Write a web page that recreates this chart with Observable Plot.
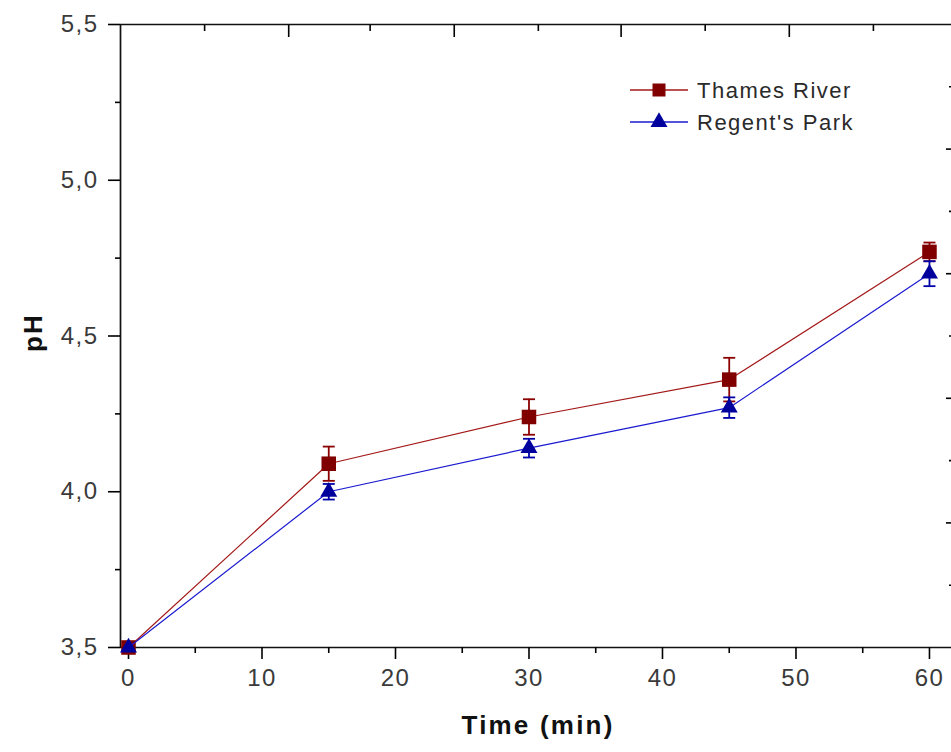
<!DOCTYPE html>
<html>
<head>
<meta charset="utf-8">
<script src="https://cdn.jsdelivr.net/npm/d3@7"></script>
<script src="https://cdn.jsdelivr.net/npm/@observablehq/plot@0.6"></script>
<style>
  html, body { margin: 0; padding: 0; background: #fff; overflow: hidden; }
  #chart { position: relative; width: 951px; height: 752px; }
  #chart svg text { letter-spacing: 1.5px; }
  #chart svg text.axis-title { letter-spacing: 2.2px; }
  #legend { position: absolute; left: 620px; top: 70px; }
  #legend text { letter-spacing: 3px; }
</style>
</head>
<body>
<div id="chart"></div>
<script>
// ---- data ----
const minutes = [0, 15, 30, 45, 60];
const thamesPH = [3.50, 4.09, 4.24, 4.36, 4.77];
const thamesErr = [0, 0.055, 0.057, 0.07, 0.03];
const regentsPH = [3.50, 4.00, 4.14, 4.27, 4.70];
const regentsErr = [0, 0.025, 0.03, 0.033, 0.04];
const seriesNames = ["Thames River", "Regent's Park"];

// ---- axes / ticks ----
const xDomain = [-0.6, 61.65];
const yDomain = [3.5, 5.5];
const xMajorTicks = [0, 10, 20, 30, 40, 50, 60];
const xMinorTicks = [5, 15, 25, 35, 45, 55];
const yMajorTicks = [3.5, 4.0, 4.5, 5.0, 5.5];
const yMinorTicks = [3.75, 4.25, 4.75, 5.25];
const topMajorTicks = [12.0, 24.4, 36.9, 49.5];
const topMinorTicks = [5.7, 18.1, 30.7, 43.2, 55.8];
const rightMajorTicks = [3.9, 4.3, 4.7, 5.1];
const rightMinorTicks = [3.7, 4.1, 4.5, 4.9, 5.3];
const xLabel = "Time (min)";
const yLabel = "pH";

// ---- styles ----
const styles = [
  {line: "#a31818", bar: "#8b0000", fill: "#800000", symbol: "square", r: 8.2, legendSize: 169, legendType: d3.symbolSquare},
  {line: "#1a1ad0", bar: "#0000a8", fill: "#00009c", symbol: "triangle", r: 6.3, legendSize: 125, legendType: d3.symbolTriangle}
];

const series = [
  minutes.map((m, i) => ({x: m, y: thamesPH[i], e: thamesErr[i]})),
  minutes.map((m, i) => ({x: m, y: regentsPH[i], e: regentsErr[i]}))
];

const capSymbol = {
  draw(ctx, size) {
    const w = Math.sqrt(size / Math.PI);
    ctx.moveTo(-w, 0);
    ctx.lineTo(w, 0);
  }
};

const seriesMarks = series.flatMap((data, k) => {
  const s = styles[k];
  const withErr = data.filter(d => d.e > 0);
  return [
    Plot.line(data, {x: "x", y: "y", stroke: s.line, strokeWidth: 1.2}),
    Plot.ruleX(withErr, {x: "x", y1: d => d.y - d.e, y2: d => d.y + d.e, stroke: s.bar, strokeWidth: 1.8}),
    Plot.dot(withErr, {x: "x", y: d => d.y + d.e, symbol: capSymbol, r: 6, stroke: s.bar, strokeWidth: 1.8, fill: "none"}),
    Plot.dot(withErr, {x: "x", y: d => d.y - d.e, symbol: capSymbol, r: 6, stroke: s.bar, strokeWidth: 1.8, fill: "none"}),
    Plot.dot(data, {x: "x", y: "y", symbol: s.symbol, r: s.r, fill: s.fill, stroke: "none"})
  ];
});

const tickFill = "#3a3a3a";

const plot = Plot.plot({
  width: 951,
  height: 752,
  marginTop: 24,
  marginBottom: 105,
  marginLeft: 120,
  marginRight: 0,
  style: {fontFamily: "'Liberation Sans', Arial, sans-serif", background: "white"},
  x: {domain: xDomain},
  y: {domain: yDomain},
  marks: [
    // frame lines (left, top, bottom)
    Plot.ruleX([xDomain[0]], {stroke: "#111", strokeWidth: 1.7}),
    Plot.ruleY([yDomain[0], yDomain[1]], {stroke: "#111", strokeWidth: 1.7}),
    // left axis
    Plot.axisY(yMajorTicks, {anchor: "left", tickSize: 12, tickPadding: 10, strokeWidth: 1.6,
      tickFormat: d => d.toFixed(1).replace(".", ","), fontSize: 24, fill: tickFill, label: null}),
    Plot.axisY(yMinorTicks, {anchor: "left", tickSize: 5, strokeWidth: 1.6, text: null, label: null}),
    // bottom axis
    Plot.axisX(xMajorTicks, {anchor: "bottom", tickSize: 12, tickPadding: 9, strokeWidth: 1.6,
      tickFormat: d => String(d), fontSize: 24, fill: tickFill, label: null}),
    Plot.axisX(xMinorTicks, {anchor: "bottom", tickSize: 6, strokeWidth: 1.6, text: null, label: null}),
    // top axis ticks (inward)
    Plot.axisX(topMajorTicks, {anchor: "top", tickSize: 12, dy: 12, strokeWidth: 1.6, text: null, label: null}),
    Plot.axisX(topMinorTicks, {anchor: "top", tickSize: 6, dy: 6, strokeWidth: 1.6, text: null, label: null}),
    // right axis ticks (inward, clipped)
    Plot.axisY(rightMajorTicks, {anchor: "right", tickSize: 6, dx: -6, strokeWidth: 1.6, text: null, label: null}),
    Plot.axisY(rightMinorTicks, {anchor: "right", tickSize: 3, dx: -3, strokeWidth: 1.6, text: null, label: null}),
    // axis titles
    Plot.text([xLabel], {text: d => d, frameAnchor: "bottom", dx: 2, dy: 86, fontSize: 26, fontWeight: "bold", fill: "#111", className: "axis-title"}),
    Plot.text([yLabel], {text: d => d, frameAnchor: "left", dx: -87, dy: 16, rotate: -90, fontSize: 26, fontWeight: "bold", fill: "#111", className: "axis-title"}),
    ...seriesMarks
  ]
});

const chart = document.getElementById("chart");
chart.appendChild(plot);
// mark axis-title text elements for letter spacing
plot.querySelectorAll("g.axis-title text").forEach(t => t.classList.add("axis-title"));

// ---- legend ----
const legend = d3.select(chart).append("svg")
  .attr("id", "legend")
  .attr("width", 280).attr("height", 70)
  .style("font-family", "'Liberation Sans', Arial, sans-serif");

seriesNames.forEach((name, i) => {
  const s = styles[i];
  const cy = 20 + i * 32;
  const g = legend.append("g");
  g.append("line").attr("x1", 10).attr("x2", 68).attr("y1", cy).attr("y2", cy)
    .attr("stroke", s.line).attr("stroke-width", 1.4);
  g.append("path").attr("d", d3.symbol().type(s.legendType).size(s.legendSize)())
    .attr("transform", `translate(39,${cy})`).attr("fill", s.fill);
  g.append("text").attr("x", 77).attr("y", cy + 8).attr("font-size", 22)
    .attr("fill", "#2a2a2a").text(name);
});
</script>
</body>
</html>
